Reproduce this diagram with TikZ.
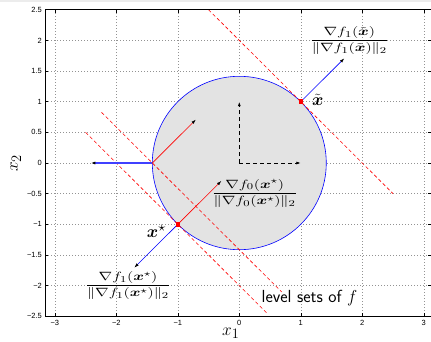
\documentclass[tikz,border=0pt]{standalone}
\usepackage{amsmath}
\usepackage{fontspec}
\newfontfamily\ticksfont{Liberation Sans}
\usetikzlibrary{arrows.meta}
\definecolor{circfill}{gray}{0.89}
\begin{document}
\begin{tikzpicture}[x=61.5pt,y=61.3pt,
  gridline/.style={gray!85, line width=0.5pt, dash pattern=on 0.7pt off 2.3pt},
  levelline/.style={red, line width=0.6pt, dash pattern=on 3.5pt off 2.5pt},
  tickmark/.style={black, line width=0.5pt},
  ticklab/.style={font=\ticksfont\fontsize{7.5}{8}\selectfont, inner sep=0pt},
  vec/.style={line width=0.6pt, -{Latex[length=4.5pt,width=3pt,color=black]}},
  dvec/.style={black, line width=0.8pt, dash pattern=on 4pt off 3pt, -{Latex[length=4.5pt,width=3pt]}},
  fraclab/.style={inner sep=0pt, xscale=1.36, font=\fontsize{12.5}{14}\selectfont},
  biglab/.style={inner sep=0pt, font=\fontsize{19}{22}\selectfont},
  marker/.style={fill=red, draw=none, minimum size=4.5pt, inner sep=0pt},
]
\useasboundingbox (-3.891,-2.904) rectangle (3.117,2.659);
\fill[gray!15] (-3.891,2.659) rectangle ([yshift=-2pt]3.117,2.659);
% grid
\foreach \xx in {-3,...,3} \draw[gridline] (\xx,-2.5) -- (\xx,2.5);
\foreach \yy in {-2,-1.5,...,2} \draw[gridline] (-3.159,\yy) -- (3.117,\yy);
% circle
\coordinate (O) at (0,0);
\coordinate (xt) at (1,1);
\coordinate (xs) at (-1,-1);
\coordinate (xb) at (-1.4142,0);
\draw[blue, fill=circfill, line width=0.6pt] (O) circle (1.4142);
% level sets
\coordinate (l1a) at (-0.5,2.5);   \coordinate (l1b) at (2.5,-0.5);
\coordinate (l2a) at (-2.24,0.826); \coordinate (l2b) at (0.69,-2.104);
\coordinate (l3a) at (-2.5,0.5);   \coordinate (l3b) at (0.45,-2.45);
\draw[levelline] (l1a) -- (l1b);
\draw[levelline] (l2a) -- (l2b);
\draw[levelline] (l3a) -- (l3b);
% vectors
\coordinate (e1) at (1,0);
\coordinate (e2) at (0,1);
\draw[dvec] (O) -- (e2);
\draw[dvec] (O) -- (e1);
\coordinate (gt) at (1.7071,1.7071);
\coordinate (gs) at (-1.7071,-1.7071);
\coordinate (fs) at (-0.2929,-0.2929);
\coordinate (fb) at (-0.7071,0.7071);
\coordinate (gb) at (-2.4142,0);
\draw[vec, blue] (xt) -- (gt);
\draw[vec, blue] (xs) -- (gs);
\draw[vec, red] (xs) -- (fs);
\draw[vec, red] (xb) -- (fb);
\draw[vec, blue!75, line width=1.3pt] (xb) -- (gb);
\node[marker] (mt) at (xt) {};
\node[marker] (ms) at (xs) {};
% labels
\node[fraclab] (g1t) at (1.79,2.0) {$\dfrac{\nabla f_1(\tilde{\boldsymbol{x}})}{\|\nabla f_1(\tilde{\boldsymbol{x}})\|_2}$};
\node[fraclab] (g0s) at (0.25,-0.495) {$\dfrac{\nabla f_0(\boldsymbol{x}^\star)}{\|\nabla f_0(\boldsymbol{x}^\star)\|_2}$};
\node[fraclab] (g1s) at (-1.81,-2.0) {$\dfrac{\nabla f_1(\boldsymbol{x}^\star)}{\|\nabla f_1(\boldsymbol{x}^\star)\|_2}$};
\node[biglab, anchor=base west] (lt) at (1.18,0.93) {$\tilde{\boldsymbol{x}}$};
\node[biglab, anchor=base west] (ls) at (-1.506,-1.223) {$\boldsymbol{x}^\star$};
\node[inner sep=0pt, anchor=base west, font=\sffamily\fontsize{17.5}{20}\selectfont] (lev) at (0.36,-2.272) {level sets of $f$};
% axes box
\draw[black, line width=0.8pt] (3.117,2.5) -- (-3.159,2.5) -- (-3.159,-2.5) -- (3.117,-2.5);
\foreach \xx in {-3,...,3} {
  \draw[tickmark] (\xx,-2.5) -- ++(0,3pt);
  \draw[tickmark] (\xx,2.5) -- ++(0,-3pt);
}
\foreach \yy in {-2.5,-2,...,2.5} {
  \draw[tickmark] (-3.159,\yy) -- ++(3pt,0);
  \draw[tickmark] (3.117,\yy) -- ++(-3pt,0);
}
\foreach \yy/\tl in {2.5/2.5,2/2,1.5/1.5,1/1,0.5/0.5,0/0,-0.5/−0.5,-1/−1,-1.5/−1.5,-2/−2,-2.5/−2.5}
  \node[ticklab, anchor=east] at ([xshift=-3pt]-3.159,\yy) {\tl};
\foreach \xx/\tl in {-3/−3,-2/−2,-1/−1,0/0,1/1,2/2,3/3}
  \node[ticklab, anchor=north] at ([yshift=-4pt]\xx,-2.5) {\tl};
\node[biglab, anchor=base west] (ax1) at (-0.281,-2.81) {$x_1$};
\node[biglab, rotate=90] (ax2) at (-3.633,-0.005) {$x_2$};
\end{tikzpicture}
\end{document}
